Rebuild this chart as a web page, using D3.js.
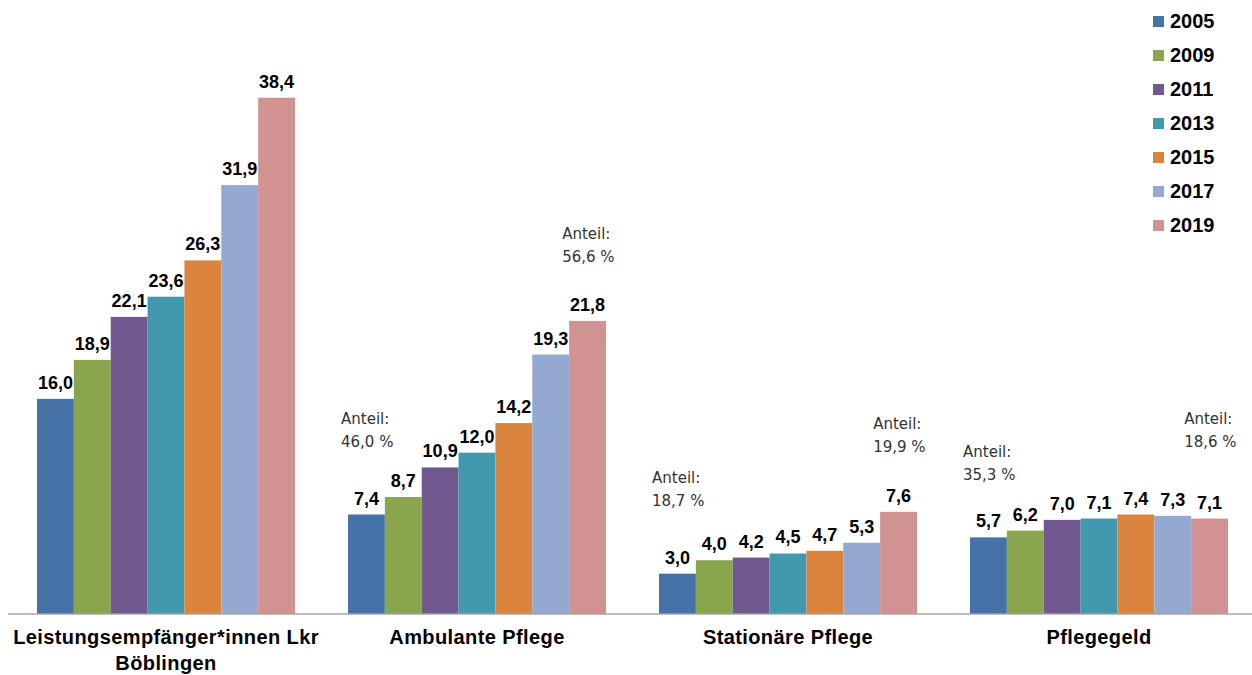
<!DOCTYPE html>
<html lang="de">

<head>
  <meta charset="UTF-8">
  <script src="https://cdn.jsdelivr.net/npm/d3@7"></script>
  <title>Leistungsempfänger</title>
  <style>
    body { margin: 0; background: #fff; }
  </style>
</head>

<body>
  <svg width="1252" height="675"></svg>
</body>
<script>
  // Daten
  const categories = ["Leistungsempfänger*innen Lkr Böblingen", "Ambulante Pflege", "Stationäre Pflege", "Pflegegeld"];
  const years = ["2005", "2009", "2011", "2013", "2015", "2017", "2019"];
  const v2005 = [16.0, 7.4, 3.0, 5.7];
  const v2009 = [18.9, 8.7, 4.0, 6.2];
  const v2011 = [22.1, 10.9, 4.2, 7.0];
  const v2013 = [23.6, 12.0, 4.5, 7.1];
  const v2015 = [26.3, 14.2, 4.7, 7.4];
  const v2017 = [31.9, 19.3, 5.3, 7.3];
  const v2019 = [38.4, 21.8, 7.6, 7.1];
  const seriesValues = [v2005, v2009, v2011, v2013, v2015, v2017, v2019];
  const colors = ["#4572A7", "#89A54E", "#71588F", "#4198AF", "#DB843D", "#93A9CF", "#D19392"];

  // Anteile (Text über Balken)
  const shareCategory = ["Ambulante Pflege", "Ambulante Pflege", "Stationäre Pflege", "Stationäre Pflege", "Pflegegeld", "Pflegegeld"];
  const shareYear = ["2005", "2019", "2005", "2019", "2005", "2019"];
  const shareText = ["46,0 %", "56,6 %", "18,7 %", "19,9 %", "35,3 %", "18,6 %"];

  const svg = d3.select("svg");
  const width = +svg.attr("width");
  const height = +svg.attr("height");

  const baseY = 614;

  const x0 = d3.scaleBand()
    .domain(categories)
    .range([10.5, 1254.5])
    .paddingInner(53 / 311)
    .paddingOuter(53 / 311 / 2);

  const x1 = d3.scaleBand()
    .domain(years)
    .range([0, x0.bandwidth()]);

  const y = d3.scaleLinear()
    .domain([0, 40])
    .range([baseY, baseY - 40 * 13.445]);

  const fmt = v => d3.format(".1f")(v).replace(".", ",");

  const rows = [];
  years.forEach((yr, i) => {
    categories.forEach((c, j) => {
      rows.push({ year: yr, cat: c, value: seriesValues[i][j], color: colors[i] });
    });
  });

  /**
   * Balken
   */
  svg.append("g")
    .selectAll("rect")
    .data(rows)
    .join("rect")
    .attr("x", d => x0(d.cat) + x1(d.year))
    .attr("y", d => y(d.value))
    .attr("width", x1.bandwidth())
    .attr("height", d => y(0) - y(d.value))
    .attr("fill", d => d.color);

  /**
   * Werte
   */
  svg.append("g")
    .selectAll("text")
    .data(rows)
    .join("text")
    .attr("x", d => x0(d.cat) + x1(d.year) + x1.bandwidth() / 2)
    .attr("y", d => y(d.value) - 10)
    .attr("text-anchor", "middle")
    .style("font-family", "'Liberation Sans', Arial, sans-serif")
    .style("font-weight", "bold")
    .style("font-size", "18px")
    .attr("fill", "#000")
    .text(d => fmt(d.value));

  /**
   * x-Achse
   */
  const xAxis = svg.append("g")
    .attr("transform", "translate(0," + baseY + ")")
    .call(d3.axisBottom(x0).tickSize(0).tickPadding(0));

  xAxis.select(".domain")
    .attr("d", "M8,0H" + width)
    .attr("stroke", "#a6a6a6")
    .attr("stroke-width", 1.6);

  xAxis.selectAll(".tick text").remove();

  xAxis.selectAll(".tick")
    .append("text")
    .attr("fill", "#000")
    .attr("text-anchor", "middle")
    .style("font-family", "'Liberation Sans', Arial, sans-serif")
    .style("font-weight", "bold")
    .style("font-size", "20px")
    .style("letter-spacing", "0.4px")
    .each(function (d) {
      const t = d3.select(this);
      const words = d.split(" ");
      const lines = [];
      let cur = "";
      words.forEach(w => {
        const test = cur ? cur + " " + w : w;
        if (test.length > 30) { lines.push(cur); cur = w; } else { cur = test; }
      });
      lines.push(cur);
      lines.forEach((l, k) => {
        t.append("tspan").attr("x", 0).attr("y", 30 + k * 26).text(l);
      });
    });

  /**
   * Anteile
   */
  const shareLift = [91, 82, 91, 83, 80, 95];
  const shares = shareText.map((s, i) => {
    const j = categories.indexOf(shareCategory[i]);
    const k = years.indexOf(shareYear[i]);
    return { cat: shareCategory[i], year: shareYear[i], value: seriesValues[k][j], text: s, lift: shareLift[i] };
  });

  const shareG = svg.append("g")
    .selectAll("text")
    .data(shares)
    .join("text")
    .attr("x", d => x0(d.cat) + x1(d.year) - 7)
    .attr("y", d => y(d.value) - d.lift)
    .attr("fill", "#333")
    .style("font-family", "'DejaVu Sans', sans-serif")
    .style("font-size", "15px");

  shareG.append("tspan")
    .attr("x", d => x0(d.cat) + x1(d.year) - 7)
    .text("Anteil:");
  shareG.append("tspan")
    .attr("x", d => x0(d.cat) + x1(d.year) - 7)
    .attr("dy", 23)
    .text(d => d.text);

  /**
   * Legende
   */
  const legend = svg.append("g")
    .attr("transform", "translate(1153,0)")
    .selectAll("g")
    .data(years)
    .join("g")
    .attr("transform", (d, i) => "translate(0," + (i * 34) + ")");

  legend.append("rect")
    .attr("x", 0)
    .attr("y", 16)
    .attr("width", 11)
    .attr("height", 11)
    .attr("fill", (d, i) => colors[i]);

  legend.append("text")
    .attr("x", 17)
    .attr("y", 28)
    .attr("fill", "#000")
    .style("font-family", "'Liberation Sans', Arial, sans-serif")
    .style("font-weight", "bold")
    .style("font-size", "20px")
    .text(d => d);
</script>

</html>
